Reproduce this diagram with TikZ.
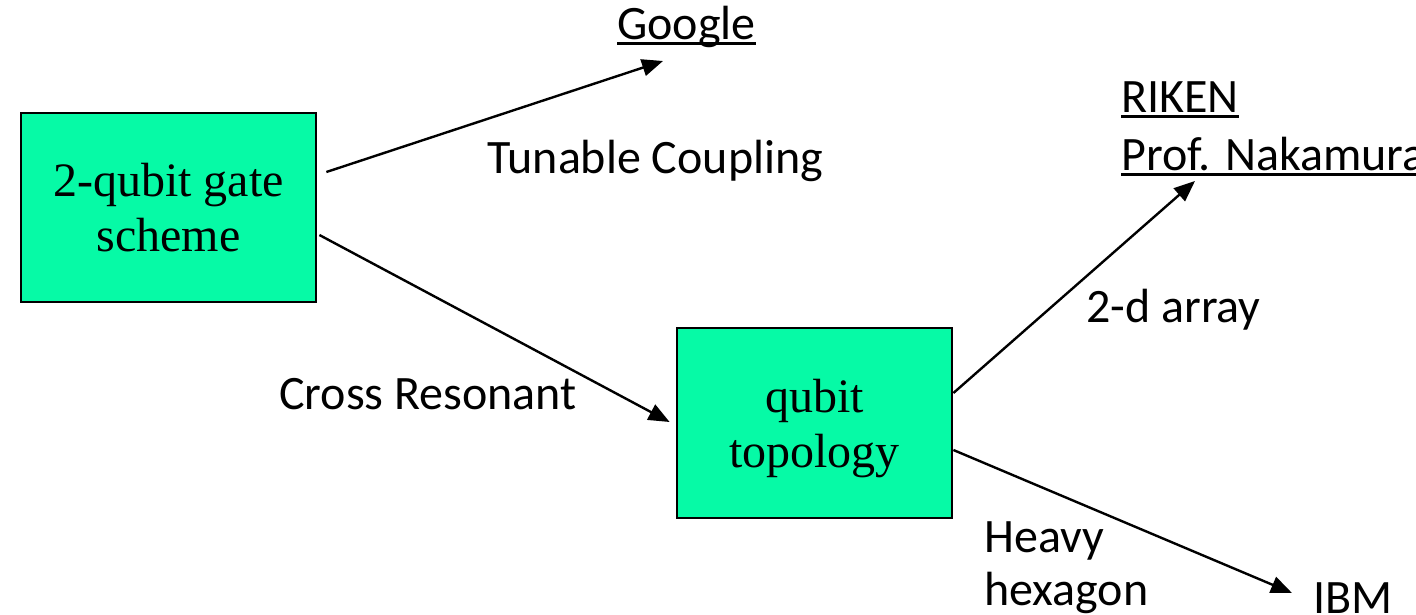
\documentclass[tikz,border=0pt]{standalone}
\usepackage{fontspec}
\setmainfont{Carlito}
\newfontfamily\boxfont{Liberation Serif}
\usetikzlibrary{arrows.meta,calc}
\definecolor{boxgreen}{RGB}{6,250,166}
\newcommand\ulword[1]{\setbox0\hbox{#1}\rlap{\rule[-5pt]{\wd0}{2.6pt}}\box0}
\tikzset{
  box/.style={draw=black,line width=2.8pt,fill=boxgreen,inner sep=0pt,
    font=\boxfont\fontsize{48}{55}\selectfont,align=center},
  lbl/.style={anchor=base west,inner sep=0pt,font=\fontsize{48}{56}\selectfont},
  arr/.style={line width=2.4pt,-{Triangle[length=21pt,width=17pt]}}
}
\begin{document}
\begin{tikzpicture}[x=1pt,y=-1pt]
\useasboundingbox (0,0) rectangle (1416,615);
\node[box,minimum width=295pt,minimum height=189pt] (b1) at (168.5,207.5) {2-qubit gate\\scheme};
\node[box,minimum width=275pt,minimum height=190pt,text depth=0pt] (b2) at (814.5,423) {qubit\\topology};

\node[lbl] (google) at (617,40) {\ulword{Google}};
\node[lbl] (tc) at (487,173) {Tunable Coupling};
\node[lbl] (riken) at (1121,113) {\ulword{RIKEN}};
\node[lbl] (naka) at (1121,171) {\ulword{Prof. Nakamura}};
\node[lbl] (arr2d) at (1086,322) {2-d array};
\node[lbl] (cr) at (279,409) {Cross Resonant};
\node[lbl] (heavy) at (984,552) {Heavy};
\node[lbl] (hex) at (984,605) {hexagon};
\node[lbl] (ibm) at (1313,613) {IBM};

\coordinate (gEnd) at (663,61);
\coordinate (rEnd) at (1195,181);
\coordinate (iEnd) at (1292,593);

\draw[arr] ([xshift=9pt,yshift=35.5pt]b1.east) -- (gEnd);
\draw[arr] ([xshift=2pt,yshift=-27.5pt]b1.east) -- ([xshift=-6pt,yshift=1pt]b2.west);
\draw[arr] ([yshift=30pt]b2.east) -- (rEnd);
\draw[arr] ([yshift=-27pt]b2.east) -- (iEnd);
\end{tikzpicture}
\end{document}
